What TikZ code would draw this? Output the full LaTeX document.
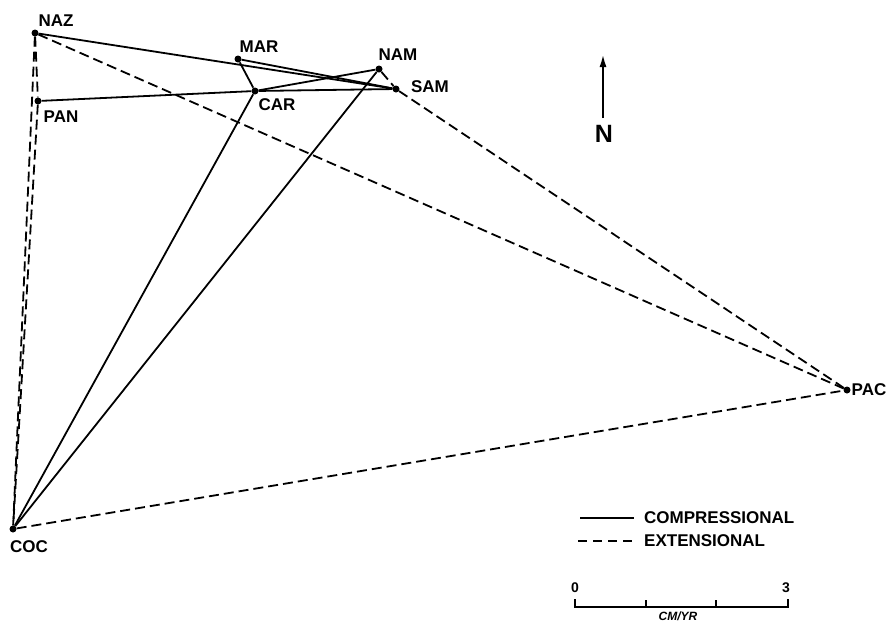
\documentclass[tikz,border=0pt]{standalone}
\usepackage{fontspec}
\setmainfont{Liberation Sans}
\usepackage{tikz}
\usetikzlibrary{arrows.meta, positioning}

\begin{document}
\begin{tikzpicture}[x=1pt, y=-1pt, font=\fontsize{17}{19}\selectfont\bfseries,
    plate/.style={circle, fill=black, inner sep=0pt, minimum size=7pt},
    lbl/.style={inner sep=0pt},
    comp/.style={line width=1.8pt},
    ext/.style={line width=1.8pt, dash pattern=on 10pt off 5pt}]
        \useasboundingbox (0,0) rectangle (887,625);

        % Plates
        \node[plate] (naz) at (35,33) {};
        \node[plate] (pan) at (38,101) {};
        \node[plate] (mar) at (238,59) {};
        \node[plate] (car) at (255,91) {};
        \node[plate] (nam) at (379,69) {};
        \node[plate] (sam) at (396,89) {};
        \node[plate] (pac) at (847,390) {};
        \node[plate] (coc) at (13,529) {};

        % Names
        \node[lbl] (nazlbl) at (56,21) {NAZ};
        \node[lbl] (panlbl) at (61,117) {PAN};
        \node[lbl] (marlbl) at (259,47) {MAR};
        \node[lbl] (carlbl) at (277,105) {CAR};
        \node[lbl] (namlbl) at (398,55) {NAM};
        \node[lbl] (samlbl) at (430,87) {SAM};
        \node[lbl] (paclbl) at (869,390) {PAC};
        \node[lbl] (coclbl) at (29,547) {COC};

        % Compressional
        \draw[comp] (naz) -- (sam);
        \draw[comp] (mar) -- (sam);
        \draw[comp] (mar) -- (car);
        \draw[comp] (pan) -- (car);
        \draw[comp] (car) -- (nam);
        \draw[comp] (car) -- (sam);
        \draw[comp] (car) -- (coc);
        \draw[comp] (nam) -- (coc);

        % Extensional
        \draw[ext] (naz) -- (pan);
        \draw[ext] (naz) -- (coc);
        \draw[ext] (pan) -- (coc);
        \draw[ext] (naz) -- (pac);
        \draw[ext] (nam) -- (sam);
        \draw[ext] (sam) -- (pac);
        \draw[ext] (coc) -- (pac);

        % North
        \node[lbl, font=\fontsize{25}{27}\selectfont\bfseries] (nlbl) at (604,134) {N};
        \coordinate (nbot) at (603,118);
        \coordinate (ntop) at (603,54);
        \draw[line width=2.2pt, -{Latex[length=13pt, width=7pt]}] (nbot) -- (ntop);

        % Legend
        \coordinate (cs) at (580,518);
        \coordinate (ce) at (634,518);
        \coordinate (es) at (578,541);
        \coordinate (ee) at (634,541);
        \draw[comp] (cs) -- (ce);
        \draw[comp, dash pattern=on 9pt off 6pt] (es) -- (ee);
        \node[lbl, anchor=west] (complbl) at (644,518) {COMPRESSIONAL};
        \node[lbl, anchor=west] (extlbl) at (644,541) {EXTENSIONAL};

        % Scale
        \draw[line width=1.8pt] (575,599) -- (575,607) -- (788,607) -- (788,599);
        \foreach \t in {646,716}
          \draw[line width=1.8pt] (\t,607) -- (\t,600);
        \node[lbl, font=\fontsize{14}{16}\selectfont\bfseries] (zerolbl) at (575,588) {0};
        \node[lbl, font=\fontsize{14}{16}\selectfont\bfseries] (threelbl) at (786,588) {3};
        \node[lbl, font=\fontsize{12}{14}\selectfont\bfseries\itshape] (unitlbl) at (678,616) {CM/YR};
      \end{tikzpicture}
\end{document}
